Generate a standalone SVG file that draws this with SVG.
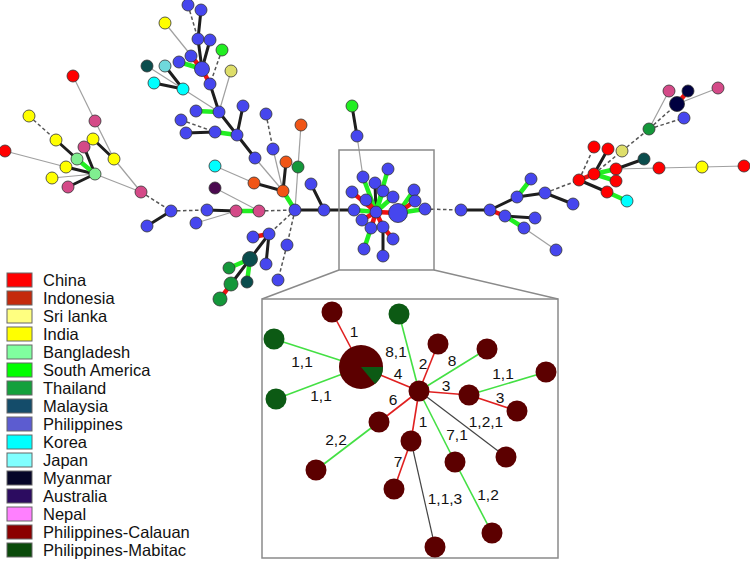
<svg xmlns="http://www.w3.org/2000/svg" width="750" height="561" viewBox="0 0 750 561">
<style>
.k{stroke:#1e1e1e;stroke-width:3;stroke-linecap:round}
.g{stroke:#22ee22;stroke-width:4.5;stroke-linecap:round}
.r{stroke:#ee1111;stroke-width:4.5;stroke-linecap:round}
.t{stroke:#a0a0a0;stroke-width:1.2}
.d{stroke:#555;stroke-width:1.5;stroke-dasharray:3.5,2.5}
circle{stroke:#333;stroke-width:0.8}
.b{fill:#4646ee}.rd{fill:#ff0000}.y{fill:#ffff00}.p{fill:#d44a88}.lg{fill:#80ee90}.sg{fill:#22ee22}.th{fill:#14973a}
.o{fill:#f05516}.c{fill:#00ffff}.jc{fill:#6fd8dc}.tl{fill:#0b4d4d}.kh{fill:#dede6a}.pu{fill:#4b0a50}.nv{fill:#000040}
.box{fill:none;stroke:#8a8a8a;stroke-width:1.5}
.ir{stroke:#e02020;stroke-width:1.6}.ig{stroke:#44e044;stroke-width:1.6}.ik{stroke:#444;stroke-width:1.2}
.cn circle{fill:#5c0000;stroke:none}.mn circle{fill:#0c5a14;stroke:none}
.lb{font-family:"Liberation Sans",Arial,sans-serif;font-size:15.5px;fill:#111;text-anchor:middle}
.lt{font-family:"Liberation Sans",Arial,sans-serif;font-size:16.5px;fill:#111}
.sw{stroke:#666;stroke-width:1}
</style>
<g id="connectors">
<g class="t">
<line x1="73" y1="76" x2="95" y2="121"/><line x1="95" y1="121" x2="114" y2="159"/><line x1="114" y1="159" x2="141" y2="192"/>
<line x1="5" y1="151" x2="66" y2="167"/><line x1="52" y1="178" x2="95" y2="174"/><line x1="95" y1="174" x2="141" y2="192"/>
<line x1="165" y1="23" x2="202" y2="69"/><line x1="231" y1="71" x2="219" y2="112"/><line x1="147" y1="66" x2="183" y2="89"/><line x1="183" y1="89" x2="219" y2="112"/>
<line x1="255" y1="158" x2="283" y2="191"/><line x1="273" y1="149" x2="283" y2="191"/><line x1="301" y1="125" x2="298" y2="167"/><line x1="298" y1="167" x2="295" y2="210"/>
<line x1="215" y1="166" x2="254" y2="183"/><line x1="215" y1="188" x2="259" y2="211"/><line x1="196" y1="223" x2="236" y2="211"/>
<line x1="357" y1="136" x2="363" y2="177"/>
<line x1="524" y1="228" x2="556" y2="250"/><line x1="616" y1="169" x2="659" y2="168"/><line x1="659" y1="168" x2="702" y2="167"/><line x1="702" y1="167" x2="744" y2="166"/>
<line x1="649" y1="129" x2="669" y2="91"/><line x1="677" y1="104" x2="718" y2="88"/>
</g>
<g class="d">
<line x1="29" y1="116" x2="56" y2="140"/><line x1="141" y1="192" x2="171" y2="211"/><line x1="171" y1="211" x2="207" y2="210"/>
<line x1="188" y1="5" x2="198" y2="39"/><line x1="222" y1="50" x2="210" y2="84"/><line x1="181" y1="120" x2="215" y2="132"/><line x1="266" y1="114" x2="273" y2="149"/>
<line x1="259" y1="211" x2="295" y2="210"/><line x1="295" y1="210" x2="269" y2="234"/><line x1="295" y1="210" x2="287" y2="245"/><line x1="287" y1="245" x2="278" y2="280"/>
<line x1="425" y1="209" x2="461" y2="210"/><line x1="545" y1="193" x2="579" y2="180"/><line x1="579" y1="180" x2="594" y2="147"/>
<line x1="594" y1="174" x2="622" y2="151"/><line x1="622" y1="151" x2="649" y2="129"/><line x1="649" y1="129" x2="677" y2="104"/><line x1="649" y1="129" x2="684" y2="118"/>
</g>
<g class="k">
<line x1="56" y1="140" x2="77" y2="159"/><line x1="84" y1="147" x2="95" y2="174"/><line x1="93" y1="139" x2="114" y2="159"/><line x1="66" y1="167" x2="95" y2="174"/><line x1="68" y1="187" x2="95" y2="174"/>
<line x1="171" y1="211" x2="147" y2="226"/>
<line x1="201" y1="10" x2="198" y2="39"/><line x1="198" y1="39" x2="202" y2="69"/><line x1="210" y1="40" x2="202" y2="69"/><line x1="210" y1="84" x2="219" y2="112"/>
<line x1="165" y1="66" x2="183" y2="89"/><line x1="154" y1="83" x2="183" y2="89"/><line x1="219" y1="112" x2="237" y2="135"/><line x1="243" y1="106" x2="237" y2="135"/>
<line x1="186" y1="133" x2="215" y2="132"/><line x1="237" y1="135" x2="255" y2="158"/>
<line x1="254" y1="183" x2="283" y2="191"/><line x1="286" y1="162" x2="283" y2="191"/><line x1="207" y1="210" x2="236" y2="211"/>
<line x1="295" y1="210" x2="324" y2="210"/><line x1="324" y1="210" x2="311" y2="184"/><line x1="324" y1="210" x2="354" y2="210"/>
<line x1="269" y1="234" x2="250" y2="259"/><line x1="250" y1="259" x2="231" y2="284"/><line x1="269" y1="234" x2="266" y2="264"/><line x1="357" y1="136" x2="352" y2="106"/>
<line x1="376" y1="212" x2="375" y2="183"/><line x1="383" y1="227" x2="383" y2="256"/>
<line x1="461" y1="210" x2="490" y2="210"/><line x1="490" y1="210" x2="517" y2="197"/><line x1="517" y1="197" x2="545" y2="193"/><line x1="505" y1="216" x2="535" y2="218"/>
<line x1="545" y1="193" x2="573" y2="204"/><line x1="579" y1="180" x2="607" y2="192"/><line x1="594" y1="174" x2="608" y2="149"/><line x1="616" y1="169" x2="644" y2="159"/>
</g>
<g class="g">
<line x1="77" y1="159" x2="95" y2="174"/><line x1="179" y1="62" x2="202" y2="69"/><line x1="196" y1="111" x2="219" y2="112"/><line x1="215" y1="132" x2="237" y2="135"/>
<line x1="236" y1="211" x2="259" y2="211"/><line x1="283" y1="191" x2="295" y2="210"/><line x1="250" y1="259" x2="229" y2="268"/><line x1="250" y1="259" x2="247" y2="282"/>
<line x1="398" y1="213" x2="425" y2="209"/><line x1="398" y1="213" x2="414" y2="190"/><line x1="376" y1="212" x2="388" y2="169"/><line x1="376" y1="212" x2="383" y2="191"/>
<line x1="376" y1="212" x2="393" y2="197"/><line x1="376" y1="212" x2="363" y2="177"/><line x1="376" y1="212" x2="354" y2="210"/><line x1="371" y1="228" x2="364" y2="249"/>
<line x1="517" y1="197" x2="531" y2="179"/><line x1="505" y1="216" x2="524" y2="228"/><line x1="607" y1="192" x2="627" y2="201"/><line x1="594" y1="174" x2="616" y2="169"/><line x1="594" y1="174" x2="616" y2="181"/>
</g>
<g class="r">
<line x1="191" y1="56" x2="202" y2="69"/><line x1="202" y1="69" x2="210" y2="84"/><line x1="269" y1="234" x2="253" y2="237"/><line x1="231" y1="284" x2="220" y2="299"/>
<line x1="376" y1="212" x2="398" y2="213"/><line x1="398" y1="213" x2="415" y2="201"/><line x1="376" y1="212" x2="352" y2="192"/><line x1="376" y1="212" x2="366" y2="200"/>
<line x1="376" y1="212" x2="362" y2="220"/><line x1="376" y1="212" x2="371" y2="228"/><line x1="376" y1="212" x2="383" y2="227"/><line x1="383" y1="227" x2="393" y2="239"/>
<line x1="490" y1="210" x2="505" y2="216"/><line x1="579" y1="180" x2="594" y2="174"/><line x1="677" y1="104" x2="688" y2="91"/>
</g>
</g>
<g id="nodes">
<g class="b">
<circle cx="188" cy="5" r="6"/><circle cx="201" cy="10" r="6"/><circle cx="198" cy="39" r="6"/><circle cx="210" cy="40" r="6"/><circle cx="191" cy="56" r="6"/><circle cx="179" cy="62" r="6"/>
<circle cx="202" cy="69" r="7.5"/><circle cx="210" cy="84" r="6"/><circle cx="196" cy="111" r="6"/><circle cx="219" cy="112" r="6"/><circle cx="243" cy="106" r="6"/>
<circle cx="181" cy="120" r="6"/><circle cx="186" cy="133" r="6"/><circle cx="215" cy="132" r="6"/><circle cx="237" cy="135" r="6"/><circle cx="266" cy="114" r="6"/>
<circle cx="273" cy="149" r="6"/><circle cx="255" cy="158" r="6"/><circle cx="311" cy="184" r="6"/><circle cx="171" cy="211" r="6"/><circle cx="207" cy="210" r="6"/>
<circle cx="196" cy="223" r="6"/><circle cx="295" cy="210" r="6"/><circle cx="324" cy="210" r="6"/><circle cx="354" cy="210" r="6"/><circle cx="269" cy="234" r="6"/>
<circle cx="253" cy="237" r="6"/><circle cx="287" cy="245" r="6"/><circle cx="266" cy="264" r="6"/><circle cx="278" cy="280" r="6"/><circle cx="147" cy="226" r="6"/>
<circle cx="357" cy="136" r="6"/>
<circle cx="388" cy="169" r="6"/><circle cx="363" cy="177" r="6"/><circle cx="375" cy="183" r="6"/><circle cx="352" cy="192" r="6"/><circle cx="383" cy="191" r="6"/>
<circle cx="366" cy="200" r="6"/><circle cx="393" cy="197" r="6"/><circle cx="414" cy="190" r="6"/><circle cx="415" cy="201" r="6"/><circle cx="425" cy="209" r="6"/>
<circle cx="376" cy="212" r="6"/><circle cx="362" cy="220" r="6"/><circle cx="371" cy="228" r="6"/><circle cx="383" cy="227" r="6"/><circle cx="393" cy="239" r="6"/>
<circle cx="364" cy="249" r="6"/><circle cx="383" cy="256" r="6"/><circle cx="398" cy="213" r="9.5"/>
<circle cx="461" cy="210" r="6"/><circle cx="490" cy="210" r="6"/><circle cx="505" cy="216" r="6"/><circle cx="517" cy="197" r="6"/><circle cx="531" cy="179" r="6"/>
<circle cx="545" cy="193" r="6"/><circle cx="535" cy="218" r="6"/><circle cx="524" cy="228" r="6"/><circle cx="573" cy="204" r="6"/><circle cx="684" cy="118" r="6"/>
<circle cx="556" cy="250" r="6"/>
</g>
<g class="rd">
<circle cx="73" cy="76" r="6"/><circle cx="5" cy="151" r="6"/><circle cx="594" cy="147" r="6"/><circle cx="608" cy="149" r="6"/><circle cx="594" cy="174" r="6"/>
<circle cx="616" cy="169" r="6"/><circle cx="659" cy="168" r="6"/><circle cx="744" cy="166" r="6"/><circle cx="579" cy="180" r="6"/><circle cx="616" cy="181" r="6"/><circle cx="607" cy="192" r="6"/>
</g>
<g class="y">
<circle cx="29" cy="116" r="6"/><circle cx="56" cy="140" r="6"/><circle cx="93" cy="139" r="6"/><circle cx="114" cy="159" r="6"/><circle cx="66" cy="167" r="6"/>
<circle cx="52" cy="178" r="6"/><circle cx="165" cy="23" r="6"/><circle cx="702" cy="167" r="6"/>
</g>
<g class="p">
<circle cx="95" cy="121" r="6"/><circle cx="84" cy="147" r="6"/><circle cx="68" cy="187" r="6"/><circle cx="141" cy="192" r="6"/><circle cx="236" cy="211" r="6"/>
<circle cx="259" cy="211" r="6"/><circle cx="669" cy="91" r="6"/><circle cx="718" cy="88" r="6"/>
</g>
<g class="lg"><circle cx="77" cy="159" r="6"/><circle cx="95" cy="174" r="6"/></g>
<g class="sg"><circle cx="222" cy="50" r="6"/><circle cx="352" cy="106" r="6"/></g>
<g class="th"><circle cx="298" cy="167" r="6"/><circle cx="229" cy="268" r="6"/><circle cx="231" cy="284" r="7"/><circle cx="220" cy="299" r="7"/><circle cx="649" cy="129" r="6"/></g>
<g class="o"><circle cx="301" cy="125" r="6"/><circle cx="286" cy="162" r="6"/><circle cx="254" cy="183" r="6"/><circle cx="283" cy="191" r="6"/></g>
<g class="c"><circle cx="154" cy="83" r="6"/><circle cx="183" cy="89" r="6"/><circle cx="215" cy="166" r="6"/><circle cx="627" cy="201" r="6"/></g>
<g class="jc"><circle cx="165" cy="66" r="6"/></g>
<g class="tl"><circle cx="147" cy="66" r="6"/><circle cx="250" cy="259" r="7.5"/><circle cx="247" cy="282" r="6"/><circle cx="644" cy="159" r="6"/></g>
<g class="kh"><circle cx="231" cy="71" r="6"/><circle cx="622" cy="151" r="6"/></g>
<g class="pu"><circle cx="215" cy="188" r="6"/></g>
<g class="nv"><circle cx="688" cy="91" r="6"/><circle cx="677" cy="104" r="7.5"/></g>
</g>
<g id="inset">
<rect class="box" x="339" y="150" width="95" height="120"/>
<line class="box" x1="339" y1="270" x2="262" y2="299"/>
<line class="box" x1="434" y1="270" x2="558" y2="299"/>
<rect class="box" x="262" y="299" width="296" height="259"/>
<g id="inset-connectors">
<line class="ir" x1="332" y1="312" x2="361" y2="367"/>
<line class="ig" x1="274" y1="339" x2="361" y2="367"/>
<line class="ig" x1="276" y1="399" x2="361" y2="367"/>
<line class="ir" x1="361" y1="367" x2="419" y2="391"/>
<line class="ig" x1="399" y1="314" x2="419" y2="391"/>
<line class="ir" x1="419" y1="391" x2="438" y2="344"/>
<line class="ig" x1="419" y1="391" x2="487" y2="349"/>
<line class="ir" x1="419" y1="391" x2="469" y2="395"/>
<line class="ig" x1="469" y1="395" x2="546" y2="372"/>
<line class="ir" x1="469" y1="395" x2="517" y2="411"/>
<line class="ir" x1="419" y1="391" x2="379" y2="422"/>
<line class="ik" x1="419" y1="391" x2="506" y2="457"/>
<line class="ir" x1="419" y1="391" x2="411" y2="441"/>
<line class="ig" x1="419" y1="391" x2="455" y2="462"/>
<line class="ig" x1="379" y1="422" x2="316" y2="470"/>
<line class="ir" x1="411" y1="441" x2="394" y2="489"/>
<line class="ik" x1="411" y1="441" x2="435" y2="547"/>
<line class="ig" x1="455" y1="462" x2="492" y2="533"/>
</g>
<g id="inset-nodes">
<g class="cn">
<circle cx="332" cy="312" r="10.5"/><circle cx="438" cy="344" r="10.5"/><circle cx="487" cy="349" r="10.5"/><circle cx="546" cy="372" r="10.5"/>
<circle cx="419" cy="391" r="10.5"/><circle cx="469" cy="395" r="10.5"/><circle cx="517" cy="411" r="10.5"/><circle cx="379" cy="422" r="10.5"/>
<circle cx="411" cy="441" r="10.5"/><circle cx="506" cy="457" r="10.5"/><circle cx="455" cy="462" r="10.5"/><circle cx="316" cy="470" r="10.5"/>
<circle cx="394" cy="489" r="10.5"/><circle cx="492" cy="533" r="10.5"/><circle cx="435" cy="547" r="10.5"/>
<circle cx="361" cy="367" r="22"/>
</g>
<path d="M361,367 L383,367 A22,22 0 0,1 375.1,383.9 Z" fill="#0c5a14"/>
<g class="mn"><circle cx="399" cy="314" r="10.5"/><circle cx="274" cy="339" r="10.5"/><circle cx="276" cy="399" r="10.5"/></g>
</g>
<g class="lb">
<text x="354" y="337">1</text><text x="302" y="367">1,1</text><text x="321" y="401">1,1</text><text x="398" y="379">4</text>
<text x="396" y="357">8,1</text><text x="423" y="369">2</text><text x="452" y="366">8</text><text x="446" y="391">3</text>
<text x="503" y="379">1,1</text><text x="500" y="403">3</text><text x="393" y="405">6</text><text x="486" y="427">1,2,1</text>
<text x="423" y="427">1</text><text x="457" y="440">7,1</text><text x="336" y="445">2,2</text><text x="398" y="467">7</text>
<text x="445" y="504">1,1,3</text><text x="488" y="500">1,2</text>
</g>
</g>
<g id="legend">
<rect class="sw" x="7" y="273" width="25" height="14" fill="#ff0000"/><text class="lt" x="43" y="286">China</text>
<rect class="sw" x="7" y="291" width="25" height="14" fill="#c42a0c"/><text class="lt" x="43" y="304">Indonesia</text>
<rect class="sw" x="7" y="309" width="25" height="14" fill="#ffff80"/><text class="lt" x="43" y="322">Sri lanka</text>
<rect class="sw" x="7" y="327" width="25" height="14" fill="#ffff00"/><text class="lt" x="43" y="340">India</text>
<rect class="sw" x="7" y="345" width="25" height="14" fill="#80ff9f"/><text class="lt" x="43" y="358">Bangladesh</text>
<rect class="sw" x="7" y="363" width="25" height="14" fill="#00ff00"/><text class="lt" x="43" y="376">South America</text>
<rect class="sw" x="7" y="381" width="25" height="14" fill="#14a03c"/><text class="lt" x="43" y="394">Thailand</text>
<rect class="sw" x="7" y="399" width="25" height="14" fill="#144c6a"/><text class="lt" x="43" y="412">Malaysia</text>
<rect class="sw" x="7" y="417" width="25" height="14" fill="#5c5cd0"/><text class="lt" x="43" y="430">Philippines</text>
<rect class="sw" x="7" y="435" width="25" height="14" fill="#00ffff"/><text class="lt" x="43" y="448">Korea</text>
<rect class="sw" x="7" y="453" width="25" height="14" fill="#80ffff"/><text class="lt" x="43" y="466">Japan</text>
<rect class="sw" x="7" y="471" width="25" height="14" fill="#060628"/><text class="lt" x="43" y="484">Myanmar</text>
<rect class="sw" x="7" y="489" width="25" height="14" fill="#2c0c60"/><text class="lt" x="43" y="502">Australia</text>
<rect class="sw" x="7" y="507" width="25" height="14" fill="#ff80ff"/><text class="lt" x="43" y="520">Nepal</text>
<rect class="sw" x="7" y="525" width="25" height="14" fill="#8b0000"/><text class="lt" x="43" y="538">Philippines-Calauan</text>
<rect class="sw" x="7" y="543" width="25" height="14" fill="#0a4a0a"/><text class="lt" x="43" y="556">Philippines-Mabitac</text>
</g>
</svg>
